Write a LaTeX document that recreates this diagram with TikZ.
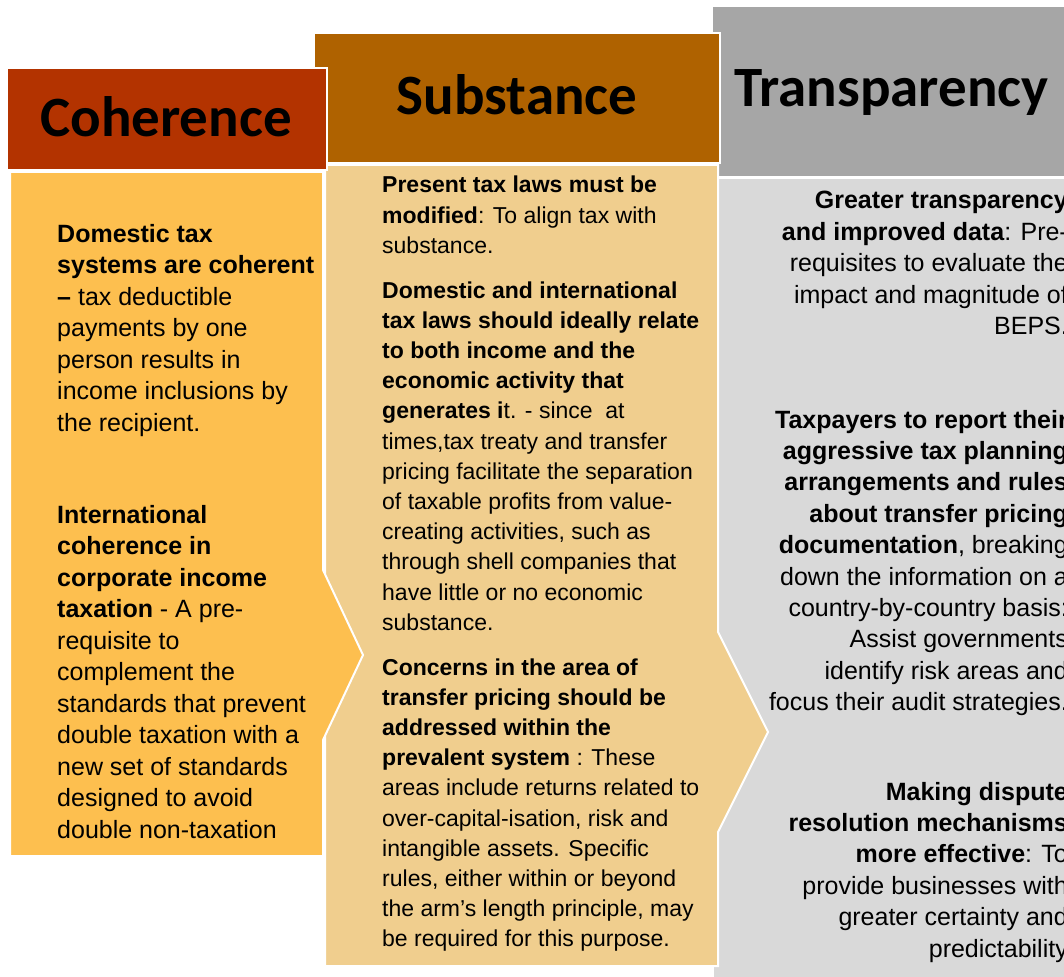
\documentclass[tikz,border=0pt]{standalone}
\usepackage{fontspec}
\setmainfont{Liberation Sans}
\newfontfamily\hdrfont{Carlito}
\definecolor{cohHead}{RGB}{179,51,0}
\definecolor{subHead}{RGB}{175,98,0}
\definecolor{traHead}{RGB}{166,166,166}
\definecolor{cohBody}{RGB}{253,191,79}
\definecolor{subBody}{RGB}{240,206,142}
\definecolor{traBody}{RGB}{217,217,217}
\begin{document}
\begin{tikzpicture}[x=1pt,y=-1pt,
  shapebox/.style={draw=white, line width=2pt, line join=miter},
  hdr/.style={font=\hdrfont\bfseries\fontsize{57}{60}\selectfont, anchor=base, inner sep=0pt, text=black},
  coht/.style={anchor=base west, inner sep=0pt, font=\fontsize{25}{31.5}\selectfont},
  subt/.style={anchor=base west, inner sep=0pt, font=\fontsize{23}{30.2}\selectfont},
  trat/.style={anchor=base east, inner sep=0pt, font=\fontsize{25}{31.4}\selectfont}]
\clip (0,0) rectangle (1064,976);
% transparency column (back)
\path[shapebox, fill=traBody] (713,178) -- (1080,178) -- (1080,990) -- (713,990) -- cycle;
\path[shapebox, fill=traHead] (712,6) -- (1080,6) -- (1080,177) -- (712,177) -- cycle;
% substance column
\path[shapebox, fill=subBody] (325,165) -- (718,165) -- (718,632) -- (768,732) -- (718,832) -- (718,966) -- (325,966) -- cycle;
\path[shapebox, fill=subHead] (314,33) -- (720,33) -- (720,163) -- (314,163) -- cycle;
% coherence column (front)
\path[shapebox, fill=cohBody] (10,172) -- (323,172) -- (323,570) -- (363,655) -- (323,740) -- (323,856) -- (10,856) -- cycle;
\path[shapebox, fill=cohHead] (7,68) -- (327,68) -- (327,170) -- (7,170) -- cycle;
% headers
\node[hdr] (hcoh) at (166,137) {Coherence};
\node[hdr] (hsub) at (517,115) {Substance};
\node[hdr] (htra) at (891.5,107) {Transparency};
% coherence texts
\node[coht] (c1) at (57,242) {\parbox[t]{300pt}{\raggedright
\textbf{Domestic tax}\\
\textbf{systems are coherent}\\
\textbf{–} tax deductible\\
payments by one\\
person results in\\
income inclusions by\\
the recipient.}};
\node[coht] (c2) at (57,523) {\parbox[t]{300pt}{\raggedright
\textbf{International}\\
\textbf{coherence in}\\
\textbf{corporate income}\\
\textbf{taxation} - A pre-\\
requisite to\\
complement the\\
standards that prevent\\
double taxation with a\\
new set of standards\\
designed to avoid\\
double non-taxation}};
% substance texts
\node[subt] (s1) at (382,193) {\parbox[t]{340pt}{\raggedright
\textbf{Present tax laws must be}\\
\textbf{modified}: To align tax with\\
substance.}};
\node[subt] (s2) at (382,298) {\parbox[t]{340pt}{\raggedright
\textbf{Domestic and international}\\
\textbf{tax laws should ideally relate}\\
\textbf{to both income and the}\\
\textbf{economic activity that}\\
\textbf{generates i}t. - since\ \ at\\
times,tax treaty and transfer\\
pricing facilitate the separation\\
of taxable profits from value-\\
creating activities, such as\\
through shell companies that\\
have little or no economic\\
substance.}};
\node[subt] (s3) at (382,675) {\parbox[t]{340pt}{\raggedright
\textbf{Concerns in the area of}\\
\textbf{transfer pricing should be}\\
\textbf{addressed within the}\\
\textbf{prevalent system} : These\\
areas include returns related to\\
over-capital-isation, risk and\\
intangible assets. Specific\\
rules, either within or beyond\\
the arm’s length principle, may\\
be required for this purpose.}};
% transparency texts
\node[trat] (t1) at (1068,209) {\parbox[t]{320pt}{\raggedleft
\textbf{Greater transparency}\\
\textbf{and improved data}: Pre-\\
requisites to evaluate the\\
impact and magnitude of\\
BEPS.}};
\node[trat] (t2) at (1068,428) {\parbox[t]{320pt}{\raggedleft
\textbf{Taxpayers to report their}\\
\textbf{aggressive tax planning}\\
\textbf{arrangements and rules}\\
\textbf{about transfer pricing}\\
\textbf{documentation}, breaking\\
down the information on a\\
country-by-country basis:\\
Assist governments\\
identify risk areas and\\
focus their audit strategies.}};
\node[trat] (t3) at (1068,800) {\parbox[t]{320pt}{\raggedleft
\textbf{Making dispute}\\
\textbf{resolution mechanisms}\\
\textbf{more effective}: To\\
provide businesses with\\
greater certainty and\\
predictability}};
\end{tikzpicture}
\end{document}
